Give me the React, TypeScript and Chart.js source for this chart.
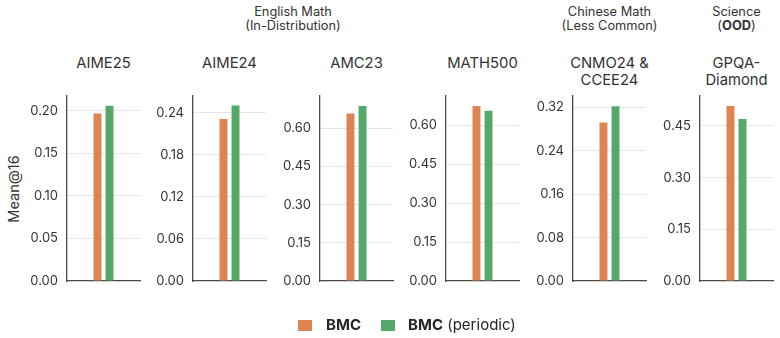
import React, { useEffect, useRef } from "react";
import { Chart, registerables } from "chart.js";

Chart.register(...registerables);

const categories = ["AIME25", "AIME24", "AMC23", "MATH500", "CNMO24 & CCEE24", "GPQA-Diamond"];
const titleLines = [["AIME25"], ["AIME24"], ["AMC23"], ["MATH500"], ["CNMO24 &", "CCEE24"], ["GPQA-", "Diamond"]];
const bmc = [0.197, 0.231, 0.659, 0.673, 0.292, 0.508];
const bmcPeriodic = [0.206, 0.25, 0.688, 0.655, 0.322, 0.47];
const yMax = [0.2176, 0.2637, 0.7276, 0.7117, 0.341, 0.537];
const yStep = [0.05, 0.06, 0.15, 0.15, 0.08, 0.15];

const ORANGE = "#dd8452";
const GREEN = "#55a868";
const FONT = "Inter, 'DejaVu Sans', sans-serif";
const TEXT = "#333333";
const SPINE = "#4a4a4a";

const AXIS_X = [67, 193, 320, 446, 573, 700];
const PLOT_W = 73;
const YAXIS_W = 60;
const CANVAS_TOP = 86;
const CANVAS_H = 205;

function Panel({ idx }: { idx: number }) {
  const ref = useRef<HTMLCanvasElement | null>(null);
  useEffect(() => {
    if (!ref.current) return;
    const chart = new Chart(ref.current, {
      type: "bar",
      data: {
        labels: [categories[idx]],
        datasets: [
          { label: "BMC", data: [bmc[idx]], backgroundColor: ORANGE, borderWidth: 0 },
          { label: "BMC (periodic)", data: [bmcPeriodic[idx]], backgroundColor: GREEN, borderWidth: 0 },
        ],
      },
      options: {
        responsive: false,
        animation: false,
        layout: { padding: { top: 10, right: 2, left: 0, bottom: 0 } },
        datasets: { bar: { categoryPercentage: 0.33, barPercentage: 0.66 } },
        plugins: { legend: { display: false }, tooltip: { enabled: false }, title: { display: false } },
        scales: {
          x: {
            type: "category",
            ticks: { display: false },
            grid: { display: false },
            border: { display: true, color: SPINE, width: 1.3 },
            afterFit: (s: any) => {
              s.height = 10;
              s.paddingLeft = 0;
              s.paddingRight = 0;
              s.paddingTop = 0;
              s.paddingBottom = 0;
            },
          },
          y: {
            type: "linear",
            min: 0,
            max: yMax[idx],
            bounds: "data",
            ticks: {
              stepSize: yStep[idx],
              includeBounds: false,
              padding: 9,
              color: TEXT,
              font: { family: FONT, size: 13 },
              callback: (v: any) => Number(v).toFixed(2),
            },
            grid: {
              drawTicks: false,
              color: (c: any) => (c.tick && c.tick.value === 0 ? "rgba(0,0,0,0)" : "#e6e6e6"),
              lineWidth: 1,
            },
            border: { display: true, color: SPINE, width: 1.3 },
            afterFit: (s: any) => {
              s.width = YAXIS_W;
              s.paddingTop = 0;
              s.paddingBottom = 0;
              s.paddingLeft = 0;
              s.paddingRight = 0;
            },
          },
        },
      },
    } as any);
    return () => chart.destroy();
  }, [idx]);
  return (
    <canvas
      ref={ref}
      width={YAXIS_W + PLOT_W + 2}
      height={CANVAS_H}
      style={{ position: "absolute", left: AXIS_X[idx] - YAXIS_W, top: CANVAS_TOP, width: YAXIS_W + PLOT_W + 2, height: CANVAS_H }}
    />
  );
}

export default function App() {
  useEffect(() => {
    document.body.style.margin = "0";
  }, []);
  const center = (i: number) => AXIS_X[i] + PLOT_W / 2;
  const headStyle = (cx: number): React.CSSProperties => ({
    position: "absolute",
    left: cx - 100,
    width: 200,
    top: 5,
    textAlign: "center",
    fontSize: 12.8,
    lineHeight: "14px",
    color: TEXT,
    fontFamily: FONT,
  });
  return (
    <div style={{ position: "relative", width: 780, height: 338, background: "#fff", overflow: "hidden", fontFamily: FONT }}>
      <div style={headStyle((center(0) + center(3)) / 2)}>English Math<br />(In-Distribution)</div>
      <div style={headStyle(center(4))}>Chinese Math<br />(Less Common)</div>
      <div style={headStyle(center(5))}>Science<br />(<b>OOD</b>)</div>
      {titleLines.map((lines, i) => (
        <div
          key={i}
          style={{
            position: "absolute",
            left: center(i) - 60,
            width: 120,
            top: 54.5,
            textAlign: "center",
            fontSize: 14.8,
            lineHeight: "17px",
            color: TEXT,
          }}
        >
          {lines.map((l, j) => (
            <div key={j}>{l}</div>
          ))}
        </div>
      ))}
      <div
        style={{
          position: "absolute",
          left: 14 - 50,
          top: 189 - 10,
          width: 100,
          height: 20,
          lineHeight: "20px",
          textAlign: "center",
          fontSize: 14.5,
          color: TEXT,
          transform: "rotate(-90deg)",
        }}
      >
        Mean@16
      </div>
      {categories.map((_, i) => (
        <Panel key={i} idx={i} />
      ))}
      <div style={{ position: "absolute", left: 298, top: 320, width: 14, height: 11, background: ORANGE }} />
      <div style={{ position: "absolute", left: 326, top: 315, lineHeight: "20px", fontSize: 15, color: "#262626" }}>
        <b>BMC</b>
      </div>
      <div style={{ position: "absolute", left: 381, top: 320, width: 14, height: 11, background: GREEN }} />
      <div style={{ position: "absolute", left: 408, top: 315, lineHeight: "20px", fontSize: 15, color: "#262626", whiteSpace: "nowrap" }}>
        <b>BMC</b> (periodic)
      </div>
    </div>
  );
}
